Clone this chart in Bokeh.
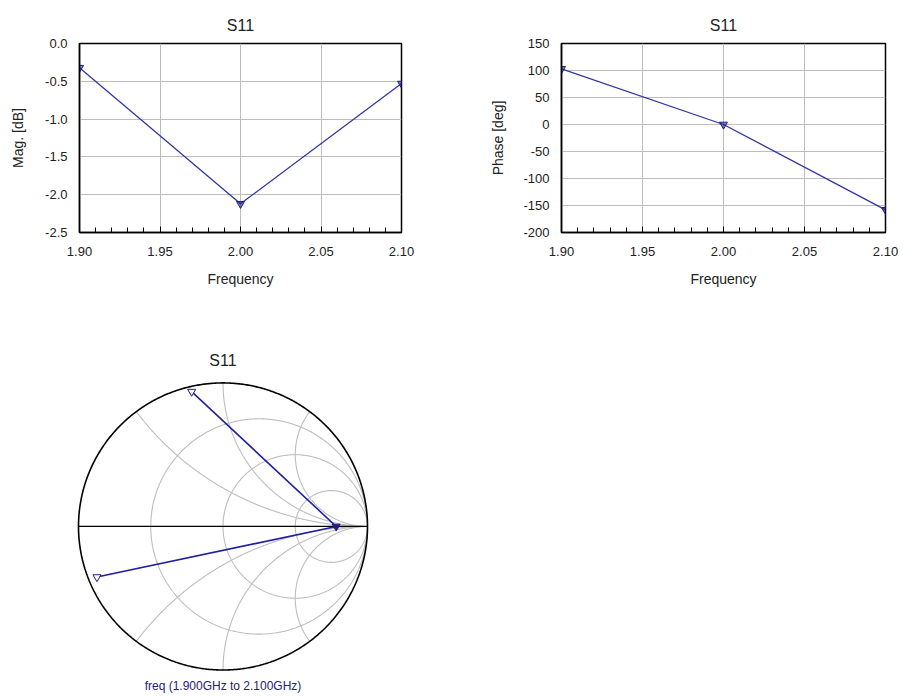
import numpy as np
from bokeh.plotting import figure
from bokeh.layouts import column, row
from bokeh.models import FixedTicker, NumeralTickFormatter, Range1d, Title
from bokeh.embed import file_html
from bokeh.resources import INLINE

# ---------------- data ----------------
freq_ghz = [1.90, 2.00, 2.10]
s11_mag_db = [-0.32, -2.12, -0.53]
s11_phase_deg = [103.0, 0.0, -158.0]

freq_ticks = [1.90, 1.95, 2.00, 2.05, 2.10]
mag_ticks = [-2.5, -2.0, -1.5, -1.0, -0.5, 0.0]
phase_ticks = [-200, -150, -100, -50, 0, 50, 100, 150]

smith_r_values = [1.0 / 3.0, 1.0, 3.0]
smith_x_values = [0.5, 1.0, 2.0]

chart_title = "S11"
smith_caption = "freq (1.900GHz to 2.100GHz)"

# ---------------- style ----------------
FONT = "Liberation Sans"
TEXT = "#222222"
GRID = "#bdbdbd"
LINE = "#3434a4"
MARK = "#1e1e82"
SMITH_LINE = "#2020a0"


def rect_plot(width, b_left, b_right, y_values, y_ticks, y_label, y_fmt, label_standoff):
    p = figure(width=width, height=298, output_backend="svg", toolbar_location=None,
               x_range=Range1d(freq_ticks[0], freq_ticks[-1]),
               y_range=Range1d(y_ticks[0], y_ticks[-1]),
               min_border_left=b_left, min_border_right=b_right,
               min_border_top=43, min_border_bottom=66,
               background_fill_color="white", border_fill_color="white")
    p.title.text = chart_title
    p.title.align = "center"
    p.title.text_font = FONT
    p.title.text_font_size = "16px"
    p.title.text_font_style = "normal"
    p.title.text_color = TEXT
    p.title.standoff = 20

    minor = [round(v, 2) for v in np.arange(190, 211) / 100.0]
    p.xaxis.ticker = FixedTicker(ticks=freq_ticks, minor_ticks=minor)
    p.xaxis.formatter = NumeralTickFormatter(format="0.00")
    p.yaxis.ticker = FixedTicker(ticks=y_ticks)
    p.yaxis.formatter = NumeralTickFormatter(format=y_fmt)

    p.xaxis.axis_label = "Frequency"
    p.yaxis.axis_label = y_label
    for ax in (p.xaxis, p.yaxis):
        ax.axis_label_text_font = FONT
        ax.axis_label_text_font_size = "14px"
        ax.axis_label_text_font_style = "normal"
        ax.axis_label_text_color = TEXT
        ax.major_label_text_font = FONT
        ax.major_label_text_font_size = "13px"
        ax.major_label_text_color = TEXT
        ax.axis_line_color = "black"
        ax.axis_line_width = 1.5
        ax.major_tick_out = 0
        ax.minor_tick_out = 0
        ax.major_tick_line_color = "black"
        ax.minor_tick_line_color = "black"
    p.xaxis.major_tick_in = 6
    p.xaxis.minor_tick_in = 5
    p.xaxis.major_label_standoff = 14
    p.xaxis.axis_label_standoff = 12
    p.yaxis.major_tick_in = 0
    p.yaxis.minor_tick_in = 0
    p.yaxis.major_label_standoff = 12
    p.yaxis.axis_label_standoff = label_standoff

    p.grid.grid_line_color = GRID
    p.grid.grid_line_width = 1
    p.outline_line_color = "black"
    p.outline_line_width = 1.5

    p.line(freq_ghz, y_values, line_color=LINE, line_width=1.3)
    p.scatter(freq_ghz, y_values, marker="inverted_triangle", size=8,
              line_color=MARK, fill_color=MARK, fill_alpha=0.55, line_width=1)
    return p


p1 = rect_plot(479, 79, 78, s11_mag_db, mag_ticks, "Mag. [dB]", "0.0", 16)
p2 = rect_plot(424, 82, 18, s11_phase_deg, phase_ticks, "Phase [deg]", "0", 14)

# ---------------- Smith chart ----------------
PX = 144.5           # pixels per unit reflection coefficient
half_w = 305 / 2.0 / PX
p3 = figure(width=385, height=399, output_backend="svg", toolbar_location=None,
            x_range=Range1d(-half_w, half_w),
            y_range=Range1d(-146.0 / PX, 157.0 / PX),
            x_axis_type=None, y_axis_type=None,
            min_border_left=70, min_border_right=10,
            min_border_top=72, min_border_bottom=24,
            background_fill_color="white", border_fill_color="white")
p3.outline_line_color = None
p3.title.text = chart_title
p3.title.align = "center"
p3.title.text_font = FONT
p3.title.text_font_size = "16px"
p3.title.text_font_style = "normal"
p3.title.text_color = TEXT
p3.title.standoff = 4

# constant-resistance circles
gx, gy = [], []
theta = np.linspace(0, 2 * np.pi, 721)
for r in smith_r_values:
    c = r / (1 + r)
    rad = 1 / (1 + r)
    gx.append(c + rad * np.cos(theta))
    gy.append(rad * np.sin(theta))
# constant-reactance arcs (inside the unit circle)
rs = np.tan(np.linspace(0, np.pi / 2 - 1e-4, 800))
for xv in smith_x_values:
    for s in (1, -1):
        z = rs + 1j * s * xv
        g = (z - 1) / (z + 1)
        gx.append(g.real)
        gy.append(g.imag)
p3.multi_line(gx, gy, line_color=GRID, line_width=1.1)

# outer circle and real axis
p3.line(np.cos(theta), np.sin(theta), line_color="black", line_width=1.6)
p3.line([-1, 1], [0, 0], line_color="black", line_width=1.3)

# S11 trace on the Smith chart
gamma = 10 ** (np.array(s11_mag_db) / 20.0) * np.exp(1j * np.deg2rad(np.array(s11_phase_deg)))
p3.line(gamma.real, gamma.imag, line_color=SMITH_LINE, line_width=1.6)
p3.scatter(gamma.real, gamma.imag, marker="inverted_triangle", size=8,
           line_color=MARK, fill_color=["white", MARK, "white"], line_width=1)

p3.add_layout(Title(text=smith_caption, align="center", text_font=FONT,
                    text_font_size="12px", text_font_style="normal",
                    text_color="#22227a", standoff=10), "below")

layout = column(row(p1, p2), p3)
open("out.html", "w").write(file_html(layout, INLINE))
